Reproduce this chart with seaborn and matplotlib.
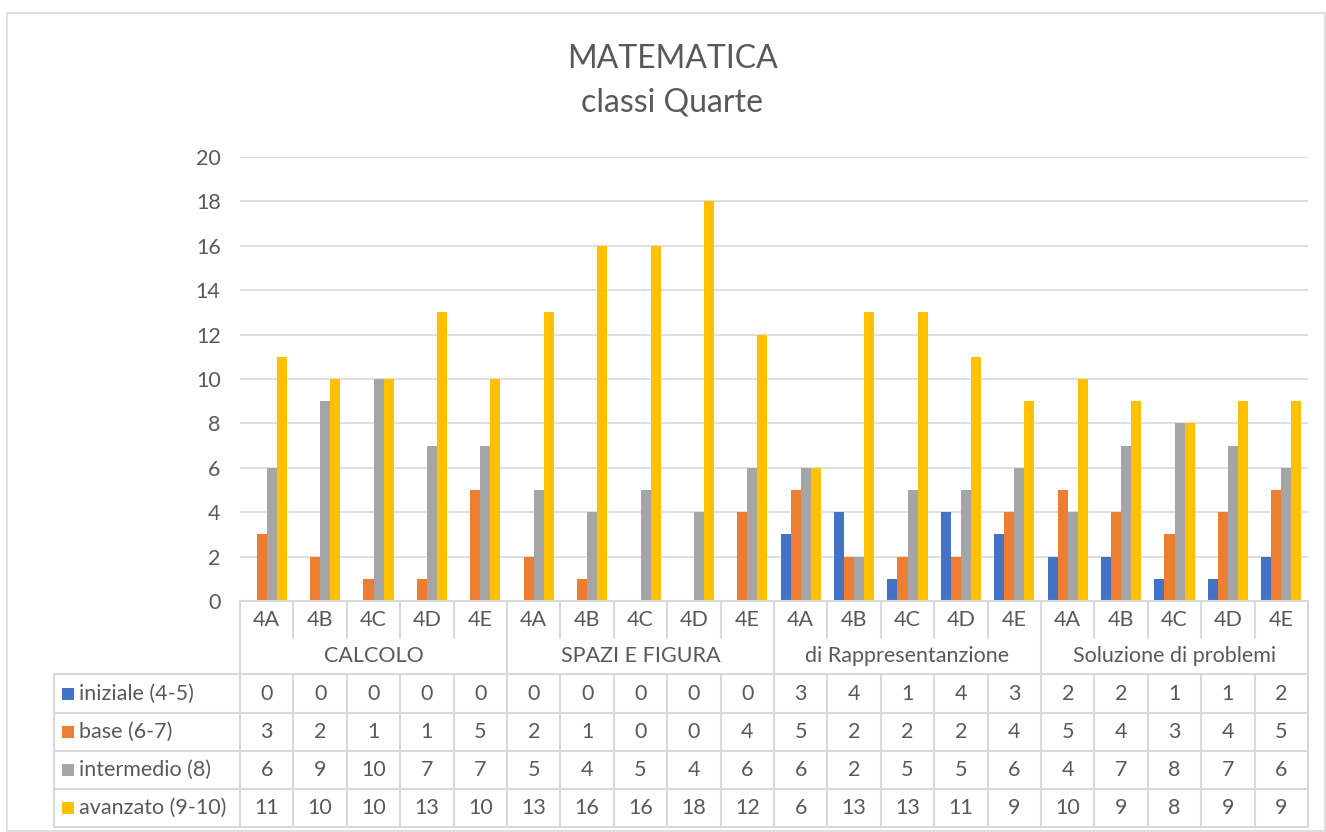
import matplotlib
matplotlib.use("Agg")
import matplotlib.pyplot as plt
import seaborn as sns
import pandas as pd
from matplotlib.patches import Rectangle
from matplotlib.lines import Line2D

# ---------------- data ----------------
groups = ["CALCOLO", "SPAZI E FIGURA", "di Rappresentanzione", "Soluzione di problemi"]
classes = ["4A", "4B", "4C", "4D", "4E"]
series_names = ["iniziale (4-5)", "base (6-7)", "intermedio (8)", "avanzato (9-10)"]
iniziale = [0, 0, 0, 0, 0, 0, 0, 0, 0, 0, 3, 4, 1, 4, 3, 2, 2, 1, 1, 2]
base = [3, 2, 1, 1, 5, 2, 1, 0, 0, 4, 5, 2, 2, 2, 4, 5, 4, 3, 4, 5]
intermedio = [6, 9, 10, 7, 7, 5, 4, 5, 4, 6, 6, 2, 5, 5, 6, 4, 7, 8, 7, 6]
avanzato = [11, 10, 10, 13, 10, 13, 16, 16, 18, 12, 6, 13, 13, 11, 9, 10, 9, 8, 9, 9]
colors = ["#4472C4", "#ED7D31", "#A5A5A5", "#FFC000"]
title_lines = ["MATEMATICA", "classi Quarte"]

series_values = [iniziale, base, intermedio, avanzato]
cats = [f"{g}|{c}" for g in groups for c in classes]
rows = []
for name, vals in zip(series_names, series_values):
    for cat, v in zip(cats, vals):
        rows.append({"cat": cat, "serie": name, "valore": v})
df = pd.DataFrame(rows)

# ---------------- figure ----------------
sns.set_theme(style="white")
plt.rcParams["font.family"] = ["Lato", "DejaVu Sans"]
TXT = "#595959"
GRID = "#D9D9D9"
FS = 15.5

W, H = 1326, 832
fig = plt.figure(figsize=(W / 100, H / 100), dpi=100)
fig.patch.set_facecolor("white")

def fx(px):
    return px / W

def fy(py):
    return 1 - py / H

# outer chart border
fig.add_artist(Rectangle((fx(7), fy(831)), fx(1325) - fx(7), fy(13) - fy(831),
                         transform=fig.transFigure, fill=False, edgecolor=GRID, linewidth=1.2))

PL, PR, PT, PB = 240, 1308, 157, 601
ax = fig.add_axes([fx(PL), fy(PB), fx(PR) - fx(PL), fy(PT) - fy(PB)])

sns.barplot(data=df, x="cat", y="valore", hue="serie", order=cats, hue_order=series_names,
            palette=colors, width=0.75, saturation=1, linewidth=0, legend=False, ax=ax)

ax.set_ylim(0, 20)
ax.set_xlim(-0.5, len(cats) - 0.5)
ax.set_yticks(range(0, 21, 2))
ax.set_yticklabels([str(v) for v in range(0, 21, 2)], color=TXT, fontsize=FS)
ax.tick_params(axis="y", length=0, pad=14)
ax.set_xticks([])
ax.set_xlabel("")
ax.set_ylabel("")
for s in ax.spines.values():
    s.set_visible(False)
ax.yaxis.grid(True, color=GRID, linewidth=1.2)
ax.set_axisbelow(True)

# ---------------- data table ----------------
trans = ax.get_xaxis_transform()

def ay(py):
    return (PB - py) / (PB - PT)

LW = 1.5

def hline(x0, x1, py):
    ax.add_line(Line2D([x0, x1], [ay(py), ay(py)], transform=trans, color=GRID,
                       linewidth=LW, clip_on=False))

def vline(x, py0, py1):
    ax.add_line(Line2D([x, x], [ay(py0), ay(py1)], transform=trans, color=GRID,
                       linewidth=LW, clip_on=False))

n = len(cats)
px_per_unit = (PR - PL) / n
HL = -0.5 - (PL - 54) / px_per_unit

row_tops = [674, 713, 751, 789, 827]
hline(-0.5, n - 0.5, PB)
for py in row_tops:
    hline(HL, n - 0.5, py)
vline(HL, 674, 827)
vline(-0.5, PB, 827)
for i in range(1, n + 1):
    x = i - 0.5
    if i % len(classes) == 0:
        vline(x, PB, 827)
    else:
        vline(x, PB, 638)
        vline(x, 674, 827)

# class labels
for i, cat in enumerate(cats):
    ax.text(i, ay(620), cat.split("|")[1], transform=trans, ha="center", va="center",
            color=TXT, fontsize=FS)
# group labels
for gi, g in enumerate(groups):
    xc = gi * len(classes) + (len(classes) - 1) / 2
    ax.text(xc, ay(656), g, transform=trans, ha="center", va="center", color=TXT, fontsize=FS)

# series rows
row_centers = [693.5, 732, 770, 808]
for name, vals, col, yc in zip(series_names, series_values, colors, row_centers):
    sq = 12
    fig.add_artist(Rectangle((fx(62), fy(yc + sq / 2)), sq / W, sq / H,
                             transform=fig.transFigure, facecolor=col, edgecolor="none"))
    fig.text(fx(79), fy(yc), name, ha="left", va="center", color=TXT, fontsize=FS)
    for i, v in enumerate(vals):
        ax.text(i, ay(yc), str(v), transform=trans, ha="center", va="center",
                color=TXT, fontsize=FS)

# title
fig.text(fx(672), fy(59), title_lines[0], ha="center", va="center", color=TXT, fontsize=23)
fig.text(fx(672), fy(103), title_lines[1], ha="center", va="center", color=TXT, fontsize=23)

fig.savefig("out.png", dpi=100, facecolor="white")
